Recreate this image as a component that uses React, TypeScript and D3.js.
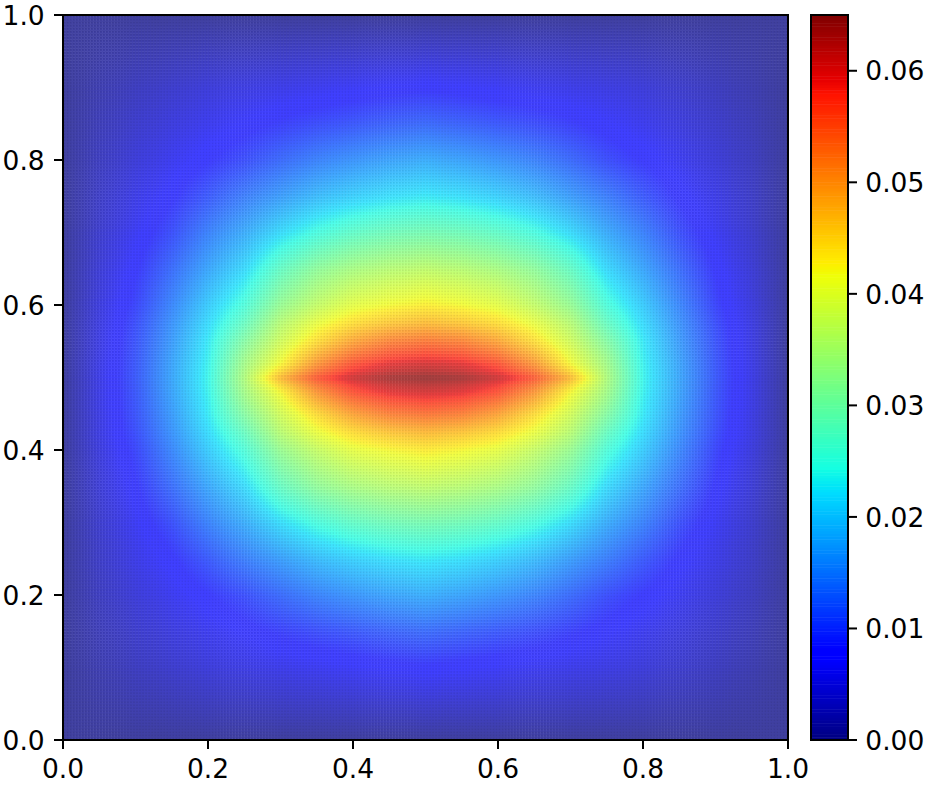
import React, { useEffect, useRef } from "react";
import * as d3 from "d3";

// Quarter of the field (the plot is mirror symmetric about x=0.5 and y=0.5)
const xStations = [0, 0.05, 0.1, 0.15, 0.2, 0.25, 0.3, 0.35, 0.4, 0.45, 0.5];
const yStations = [0.5, 0.51, 0.52, 0.53, 0.55, 0.575, 0.6, 0.65, 0.7, 0.75, 0.8, 0.85, 0.9, 0.95, 1];
const row050 = [0, 0.0055, 0.0108, 0.0172, 0.0238, 0.035, 0.0475, 0.056, 0.0615, 0.0642, 0.065];
const row051 = [0, 0.0055, 0.0107, 0.0171, 0.0237, 0.0345, 0.0445, 0.053, 0.0585, 0.0615, 0.0625];
const row052 = [0, 0.0055, 0.0106, 0.017, 0.0235, 0.0338, 0.042, 0.0505, 0.0565, 0.0595, 0.0605];
const row053 = [0, 0.0054, 0.0105, 0.0168, 0.0232, 0.033, 0.0408, 0.0485, 0.054, 0.057, 0.058];
const row055 = [0, 0.0053, 0.0103, 0.0163, 0.0228, 0.031, 0.0385, 0.0445, 0.0495, 0.0525, 0.0535];
const row0575 = [0, 0.0051, 0.0098, 0.0156, 0.0216, 0.028, 0.036, 0.041, 0.0445, 0.0465, 0.0475];
const row060 = [0, 0.0048, 0.0091, 0.0146, 0.0203, 0.0255, 0.0328, 0.0372, 0.0405, 0.042, 0.043];
const row065 = [0, 0.0043, 0.0079, 0.0124, 0.0172, 0.0215, 0.0278, 0.032, 0.0345, 0.036, 0.0368];
const row070 = [0, 0.0037, 0.0066, 0.0099, 0.0142, 0.0177, 0.0218, 0.025, 0.0274, 0.0288, 0.0295];
const row075 = [0, 0.0032, 0.0056, 0.0078, 0.0108, 0.0138, 0.0165, 0.019, 0.0207, 0.022, 0.0228];
const row080 = [0, 0.0026, 0.0045, 0.0062, 0.008, 0.0098, 0.0122, 0.0142, 0.0157, 0.0169, 0.0178];
const row085 = [0, 0.0021, 0.0036, 0.0049, 0.0061, 0.0073, 0.0086, 0.0097, 0.0106, 0.0115, 0.0122];
const row090 = [0, 0.0015, 0.0027, 0.0037, 0.0046, 0.0053, 0.0058, 0.0063, 0.0068, 0.0073, 0.0078];
const row095 = [0, 0.0008, 0.0014, 0.0019, 0.0024, 0.0027, 0.003, 0.0032, 0.0034, 0.0036, 0.0038];
const row100 = [0, 0, 0, 0, 0, 0, 0, 0, 0, 0, 0];
const fieldRows = [row050, row051, row052, row053, row055, row0575, row060, row065, row070, row075, row080, row085, row090, row095, row100];

const axisTicks = [0, 0.2, 0.4, 0.6, 0.8, 1];
const colorbarTicks = [0, 0.01, 0.02, 0.03, 0.04, 0.05, 0.06];
const colorMax = 0.065;
const meshCells = 240;
const meshOpacity = 0.75;

// jet colormap channels
const jetR = d3.scaleLinear().domain([0, 0.35, 0.66, 0.89, 1]).range([0, 0, 255, 255, 127.5]).clamp(true);
const jetG = d3.scaleLinear().domain([0, 0.125, 0.375, 0.64, 0.91, 1]).range([0, 0, 255, 255, 0, 0]).clamp(true);
const jetB = d3.scaleLinear().domain([0, 0.11, 0.34, 0.65, 1]).range([127.5, 255, 255, 0, 0]).clamp(true);
const toT = d3.scaleLinear().domain([0, colorMax]).range([0, 1]).clamp(true);
function jet(v: number, a = 1) {
  const t = toT(v);
  const m = (ch: number) => ch * a + 255 * (1 - a);
  return `rgb(${m(jetR(t))},${m(jetG(t))},${m(jetB(t))})`;
}

const FONT = "'DejaVu Sans'";
const FS = 26.5;

const left = 63, right = 788, top = 15, bottom = 740;
const cbLeft = 811, cbRight = 848;

function shade(x: number, y: number) {
  const u = 0.5 - Math.abs(x - 0.5);
  const v = 0.5 + Math.abs(y - 0.5);
  const i = Math.min(d3.bisectRight(xStations, u), xStations.length - 1);
  const j = Math.min(d3.bisectRight(yStations, v), yStations.length - 1);
  const sx = (u - xStations[i - 1]) / (xStations[i] - xStations[i - 1]);
  const sy = (v - yStations[j - 1]) / (yStations[j] - yStations[j - 1]);
  const a = fieldRows[j - 1][i - 1] * (1 - sx) + fieldRows[j - 1][i] * sx;
  const b = fieldRows[j][i - 1] * (1 - sx) + fieldRows[j][i] * sx;
  return a * (1 - sy) + b * sy;
}

export default function App() {
  const ref = useRef<SVGSVGElement>(null);
  useEffect(() => {
    const svg = d3.select(ref.current);
    svg.selectAll("*").remove();
    const x = d3.scaleLinear().domain([0, 1]).range([left, right]);
    const y = d3.scaleLinear().domain([0, 1]).range([bottom, top]);
    const c = d3.scaleLinear().domain([0, colorMax]).range([bottom, top]);

    const cells = d3.range(meshCells * meshCells).map((k) => ({
      i: k % meshCells,
      j: Math.floor(k / meshCells),
    }));
    const step = 1 / meshCells;
    const w = x(step) - x(0);

    const pat = svg.append("defs").append("pattern")
      .attr("id", "meshDots").attr("patternUnits", "userSpaceOnUse")
      .attr("x", left).attr("y", top).attr("width", w).attr("height", w);
    pat.append("circle").attr("cx", w / 2).attr("cy", w / 2).attr("r", 0.85).attr("fill", "#000").attr("fill-opacity", 0.08);

    svg.append("g").selectAll("rect").data(cells).join("rect")
      .attr("x", (d) => x(d.i * step))
      .attr("y", (d) => y((d.j + 1) * step))
      .attr("width", w + 0.5)
      .attr("height", w + 0.5)
      .attr("fill", (d) => jet(shade((d.i + 0.5) * step, (d.j + 0.5) * step), meshOpacity));
    svg.append("rect").attr("x", left).attr("y", top).attr("width", right - left).attr("height", bottom - top).attr("fill", "url(#meshDots)");

    const levels = d3.range(0, 260).map((k) => (k / 260) * colorMax);
    svg.append("g").selectAll("rect").data(levels).join("rect")
      .attr("x", cbLeft).attr("width", cbRight - cbLeft)
      .attr("y", (d) => c(d + colorMax / 260))
      .attr("height", (d) => c(d) - c(d + colorMax / 260) + 0.5)
      .attr("fill", (d) => jet(d + colorMax / 520));

    const frame = svg.append("g").attr("fill", "none").attr("stroke", "#000").attr("stroke-width", 2);
    frame.append("rect").attr("x", left).attr("y", top).attr("width", right - left).attr("height", bottom - top);
    frame.append("rect").attr("x", cbLeft).attr("y", top).attr("width", cbRight - cbLeft).attr("height", bottom - top);

    const text = svg.append("g").attr("font-family", FONT).attr("font-size", FS).attr("fill", "#000");
    axisTicks.forEach((t) => {
      frame.append("line").attr("x1", x(t)).attr("x2", x(t)).attr("y1", bottom).attr("y2", bottom + 9);
      frame.append("line").attr("y1", y(t)).attr("y2", y(t)).attr("x1", left).attr("x2", left - 9);
      text.append("text").attr("x", x(t)).attr("y", 778).attr("text-anchor", "middle").text(t.toFixed(1));
      text.append("text").attr("x", 44.7).attr("y", y(t) + 9.7).attr("text-anchor", "end").text(t.toFixed(1));
    });
    colorbarTicks.forEach((t) => {
      frame.append("line").attr("y1", c(t)).attr("y2", c(t)).attr("x1", cbRight).attr("x2", cbRight + 9);
      text.append("text").attr("x", 865.3).attr("y", c(t) + 9.7).text(t.toFixed(2));
    });
  }, []);
  return (
    <svg ref={ref} width={930} height={790} style={{ position: "absolute", left: 0, top: 0 }} />
  );
}
